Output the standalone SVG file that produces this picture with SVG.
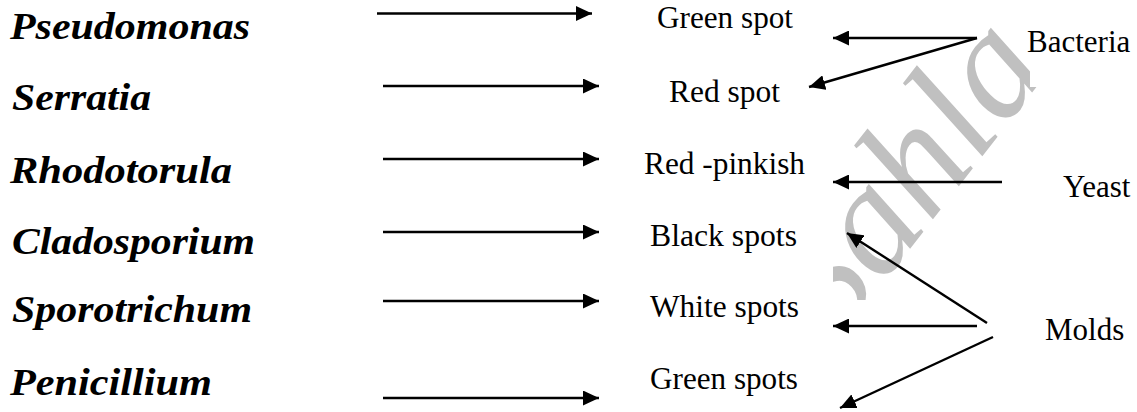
<svg xmlns="http://www.w3.org/2000/svg" width="1137" height="412" viewBox="0 0 1137 412">
<style>
.org{font-family:"Liberation Serif","Times New Roman",serif;font-weight:bold;font-style:italic;font-size:37px;fill:#000}
.lbl{font-family:"Liberation Serif","Times New Roman",serif;font-size:31px;fill:#000}
.wm{font-family:"Liberation Serif","Times New Roman",serif;font-style:italic;font-size:155px;fill:#c0c0c0}
.arr{stroke:#000;stroke-width:2.4;fill:none;marker-end:url(#ah)}
</style>
<defs>
<marker id="ah" markerUnits="userSpaceOnUse" markerWidth="16" markerHeight="15" refX="16" refY="7.5" orient="auto" viewBox="0 0 16 15">
<path d="M0,0 L16,7.5 L0,15 Z" fill="#000"/>
</marker>
<clipPath id="wmclip"><rect x="833" y="0" width="304" height="300"/></clipPath>
</defs>
<rect width="1137" height="412" fill="#fff"/>
<g id="watermark" clip-path="url(#wmclip)">
<text class="wm" transform="translate(834,346) rotate(-52)">Sahla</text>
</g>
<rect x="1030" y="37" width="107" height="50" fill="#fff"/>
<g id="connectors">
<line class="arr" x1="377" y1="13.5" x2="592" y2="13.5"/>
<line class="arr" x1="383" y1="86" x2="599" y2="86"/>
<line class="arr" x1="383" y1="159" x2="599" y2="159"/>
<line class="arr" x1="383" y1="232" x2="599" y2="232"/>
<line class="arr" x1="383" y1="301" x2="599" y2="301"/>
<line class="arr" x1="383" y1="398" x2="599" y2="398"/>
<line class="arr" x1="977" y1="38" x2="833" y2="38"/>
<line class="arr" x1="977" y1="38" x2="809" y2="87"/>
<line class="arr" x1="1002" y1="182" x2="833" y2="182"/>
<line class="arr" x1="987" y1="323" x2="847" y2="233"/>
<line class="arr" x1="977" y1="326" x2="833" y2="326"/>
<line class="arr" x1="993" y1="337" x2="840" y2="408"/>
</g>
<g id="pseudomonas"><text class="org" x="10" y="39" textLength="240" lengthAdjust="spacingAndGlyphs">Pseudomonas</text></g>
<g id="serratia"><text class="org" x="12" y="110" textLength="139" lengthAdjust="spacingAndGlyphs">Serratia</text></g>
<g id="rhodotorula"><text class="org" x="10" y="183" textLength="222" lengthAdjust="spacingAndGlyphs">Rhodotorula</text></g>
<g id="cladosporium"><text class="org" x="12" y="254" textLength="243" lengthAdjust="spacingAndGlyphs">Cladosporium</text></g>
<g id="sporotrichum"><text class="org" x="12" y="322" textLength="240" lengthAdjust="spacingAndGlyphs">Sporotrichum</text></g>
<g id="penicillium"><text class="org" x="10" y="395" textLength="202" lengthAdjust="spacingAndGlyphs">Penicillium</text></g>
<g id="green-spot"><text class="lbl" x="657" y="28" textLength="136" lengthAdjust="spacingAndGlyphs">Green spot</text></g>
<g id="red-spot"><text class="lbl" x="669" y="102" textLength="111" lengthAdjust="spacingAndGlyphs">Red spot</text></g>
<g id="red-pinkish"><text class="lbl" x="644" y="174" textLength="161" lengthAdjust="spacingAndGlyphs">Red -pinkish</text></g>
<g id="black-spots"><text class="lbl" x="650" y="246" textLength="147" lengthAdjust="spacingAndGlyphs">Black spots</text></g>
<g id="white-spots"><text class="lbl" x="650" y="317" textLength="149" lengthAdjust="spacingAndGlyphs">White spots</text></g>
<g id="green-spots"><text class="lbl" x="650" y="389" textLength="148" lengthAdjust="spacingAndGlyphs">Green spots</text></g>
<g id="bacteria"><text class="lbl" x="1027" y="52">Bacteria</text></g>
<g id="yeast"><text class="lbl" x="1063" y="197">Yeast</text></g>
<g id="molds"><text class="lbl" x="1045" y="340">Molds</text></g>
</svg>
